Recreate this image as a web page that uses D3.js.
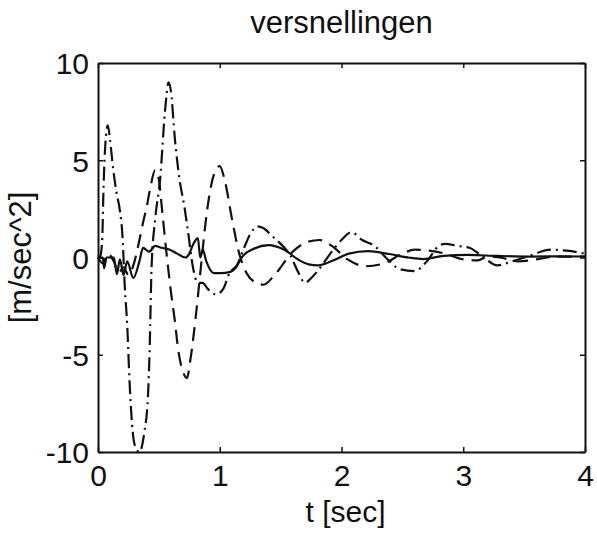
<!DOCTYPE html>
<html>
<head>
<meta charset="utf-8">
<script src="https://cdn.jsdelivr.net/npm/d3@7"></script>
<style>
  body { margin: 0; background: #fff; }
  text { font-family: "Liberation Sans", Arial, Helvetica, sans-serif; fill: #111; }
</style>
</head>
<body>
<script>
// values
var xTicks = [0, 1, 2, 3, 4];
var yTicks = [-10, -5, 0, 5, 10];

// solid line (small response)
var solidT = [0, 0.04, 0.05, 0.07, 0.13, 0.155, 0.18, 0.21, 0.24, 0.29, 0.34, 0.37, 0.42, 0.47, 0.52, 0.59,
              0.65, 0.72, 0.75, 0.78, 0.82, 0.84, 0.86, 0.89, 0.95, 1.01, 1.08, 1.14, 1.18, 1.28, 1.4, 1.53,
              1.65, 1.73, 1.81, 1.94, 2.06, 2.22, 2.39, 2.55, 2.67, 2.84, 3.04, 3.28, 3.53, 3.77, 4.0];
var solidV = [0, 0, -0.55, 0, 0, -0.85, -0.1, -0.9, -0.2, -1.05, -0.2, 0.5, 0.3, 0.6, 0.5, 0.4,
              0.2, 0, 0.2, 0.65, 1.0, 0, 0.4, -0.2, -0.8, -0.8, -0.75, -0.45, 0, 0.45, 0.64, 0.4,
              -0.13, -0.35, -0.4, -0.13, 0.2, 0.33, 0.18, 0, -0.08, 0.08, 0.13, 0.08, 0.05, 0.06, 0.05];

// dashed line
var dashT = [0, 0.04, 0.08, 0.13, 0.17, 0.21, 0.25, 0.3, 0.33, 0.37, 0.4, 0.43, 0.47, 0.5, 0.53, 0.57,
             0.6, 0.63, 0.66, 0.7, 0.73, 0.76, 0.8, 0.84, 0.88, 0.92, 0.96, 1.0, 1.04, 1.1, 1.16, 1.22,
             1.3, 1.36, 1.45, 1.6, 1.72, 1.82, 1.92, 2.05, 2.2, 2.35, 2.5, 2.6, 2.72, 2.85, 3.0, 3.12,
             3.2, 3.3, 3.45, 3.6, 3.75, 3.9, 4.0];
var dashV = [0, -0.3, 0.2, -0.2, -0.8, -0.5, -0.9, -0.2, 0.6, 1.8, 2.6, 3.6, 4.5, 4.0, 2.2, -0.2,
             -1.8, -3.2, -4.8, -5.9, -6.2, -5.2, -3.2, -0.8, 1.6, 3.4, 4.4, 4.7, 4.0, 2.0, 0.2, -0.8,
             -1.3, -1.4, -0.9, 0.3, 0.8, 0.9, 0.6, -0.1, -0.45, -0.3, 0.2, 0.4, 0.35, 0.2, -0.1, -0.15,
             0.05, 0, -0.2, -0.1, 0.05, 0.05, 0.05];

// dash-dot line (largest response)
var dashDotT = [0, 0.02, 0.035, 0.045, 0.06, 0.08, 0.1, 0.12, 0.15, 0.18, 0.2, 0.22, 0.24, 0.26, 0.28, 0.3,
                0.34, 0.38, 0.41, 0.425, 0.44, 0.47, 0.51, 0.55, 0.58, 0.6, 0.63, 0.67, 0.71, 0.74, 0.78, 0.82,
                0.86, 0.9, 0.97, 1.03, 1.08, 1.14, 1.2, 1.25, 1.31, 1.36, 1.43, 1.5, 1.58, 1.64, 1.7, 1.76,
                1.84, 1.92, 2.0, 2.08, 2.17, 2.27, 2.38, 2.48, 2.6, 2.7, 2.8, 2.85, 2.95, 3.05, 3.15, 3.28,
                3.4, 3.55, 3.72, 3.85, 4.0];
var dashDotV = [0, 0.1, 1.0, 3.5, 5.8, 6.8, 6.0, 4.8, 3.4, 2.4, 1.2, -1.5, -3.5, -6.5, -8.6, -9.6,
                -10, -9.0, -7.2, -4.5, -0.5, 2.0, 4.0, 7.5, 9.0, 8.5, 6.2, 4.0, 2.6, 1.3, -0.5, -1.3,
                -1.3, -1.6, -1.9, -1.6, -0.8, -0.4, 0.5, 1.2, 1.6, 1.5, 1.1, 0.7, 0.1, -0.7, -1.3, -1.0,
                -0.4, 0.3, 0.9, 1.3, 0.9, 0.6, -0.1, -0.6, -0.7, -0.2, 0.6, 0.7, 0.6, 0.5, 0.1, -0.4,
                -0.2, 0.1, 0.4, 0.35, 0.2];

var series = [
    {t: solidT, v: solidV, dash: null},
    {t: dashT, v: dashV, dash: "14,8"},
    {t: dashDotT, v: dashDotV, dash: "14,5,2,5"}
];

var width = 597, height = 533;
var margin = {left: 98, right: 10, top: 63, bottom: 81};

var svg = d3.select("body").append("svg")
        .attr("width", width)
        .attr("height", height)
        .style("background", "#fff");

var x = d3.scaleLinear().domain([0, 4]).range([margin.left, width - margin.right - 2]);
var y = d3.scaleLinear().domain([-10, 10]).range([height - margin.bottom, margin.top]);

var tickFont = "30px", labelFont = "31px";

// axes, ticks on every side pointing inwards (matlab style)
var xAxis = svg.append("g")
        .attr("transform", "translate(0," + y(-10) + ")")
        .call(d3.axisBottom(x).tickValues(xTicks).tickSize(-5).tickSizeOuter(0)
              .tickPadding(13).tickFormat(function(d) { return String(d); }));
var xTop = svg.append("g")
        .attr("transform", "translate(0," + y(10) + ")")
        .call(d3.axisTop(x).tickValues(xTicks).tickSize(-5).tickSizeOuter(0).tickFormat(""));
var yAxis = svg.append("g")
        .attr("transform", "translate(" + x(0) + ",0)")
        .call(d3.axisLeft(y).tickValues(yTicks).tickSize(-5).tickSizeOuter(0)
              .tickPadding(9).tickFormat(function(d) { return String(d); }));
var yRight = svg.append("g")
        .attr("transform", "translate(" + x(4) + ",0)")
        .call(d3.axisRight(y).tickValues(yTicks).tickSize(-5).tickSizeOuter(0).tickFormat(""));

svg.selectAll(".domain").attr("stroke", "#111").attr("stroke-width", 2);
svg.selectAll(".tick line").attr("stroke", "#111").attr("stroke-width", 1.5);
svg.selectAll(".tick text")
        .attr("font-family", null)
        .style("font-size", tickFont)
        .attr("fill", "#111");
xAxis.selectAll(".tick text").attr("dy", "0.71em");
yAxis.selectAll(".tick text").attr("dy", "0.36em");

// curves
var line = d3.line()
        .x(function(d) { return x(d[0]); })
        .y(function(d) { return y(d[1]); })
        .curve(d3.curveMonotoneX);

svg.append("g").attr("class", "lines")
    .selectAll("path")
        .data(series).enter()
    .append("path")
        .attr("d", function(s) { return line(d3.zip(s.t, s.v)); })
        .attr("fill", "none")
        .attr("stroke", "#111")
        .attr("stroke-width", 2.2)
        .attr("stroke-linejoin", "round")
        .attr("stroke-dasharray", function(s) { return s.dash; });

// labels
svg.append("text")
        .attr("x", (x(0) + x(4)) / 2)
        .attr("y", 33)
        .attr("text-anchor", "middle")
        .style("font-size", labelFont)
        .text("versnellingen");

svg.append("text")
        .attr("x", (x(0) + x(4)) / 2 + 4)
        .attr("y", 522)
        .attr("text-anchor", "middle")
        .style("font-size", "30px")
        .text("t [sec]");

svg.append("text")
        .attr("transform", "translate(31," + y(0) + ") rotate(-90)")
        .attr("text-anchor", "middle")
        .style("font-size", labelFont)
        .text("[m/sec^2]");
</script>
</body>
</html>
